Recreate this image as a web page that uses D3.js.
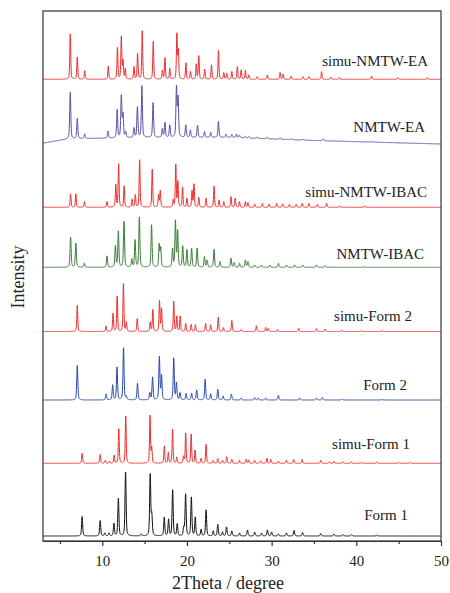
<!DOCTYPE html>
<html><head><meta charset="utf-8">
<script src="https://cdn.jsdelivr.net/npm/d3@7"></script>
<style>html,body{margin:0;padding:0;background:#fff;}svg{display:block;}</style>
</head><body>
<script>
// ---- data (2θ in degrees, intensities in arbitrary units) ----
const seriesNames = ["simu-NMTW-EA","NMTW-EA","simu-NMTW-IBAC","NMTW-IBAC","simu-Form 2","Form 2","simu-Form 1","Form 1"];
const offsets = [461.7, 0, 333.7, 273.7, 209.5, 141, 77.7, 5];
// background of NMTW-EA (2θ, intensity)
const bgEA = [[3,397.8],[6,402.2],[15,403.5],[25,403.7],[35,400.5],[50,397]];
const xTicks = [10,20,30,40,50];
const xMinorTicks = [5,15,25,35,45];

const peaksSimuEA = [[6.22,45.3],[7.05,22.5],[7.93,8.7],[10.71,13.3],[11.79,32],[12.25,42.7],[12.45,18],[12.72,10],[13.75,12.5],[14.17,26],[14.72,48.3],[16.02,37.7],[17.1,8.7],[17.4,21.3],[17.97,11],[18.81,45.3],[18.98,28],[19.88,16.3],[20.42,7.7],[21.1,15],[21.4,23.3],[22.1,10],[22.9,14.3],[23.72,28.7],[24.35,6.7],[24.7,6],[25.3,7.7],[25.95,12.7],[26.4,9.3],[26.9,8.7],[27.3,4.3],[28.3,2.7],[29.5,4.3],[31.0,6.7],[31.35,5.3],[32.3,3.3],[33.7,2.7],[34.4,2.7],[35.9,7.7],[37.0,2],[38.0,2],[41.8,3.3],[44.9,1.7],[48.4,1.7]];
const peaksEA = [[6.22,46.5],[7.05,20.5],[7.92,4.5],[10.68,7],[11.76,28],[12.25,42],[12.45,23],[12.77,5.7],[13.75,9.5],[14.15,30.7],[14.68,51.5],[16.0,34.7],[17.1,8.5],[17.4,14.7],[17.97,12.3],[18.76,49.5],[18.95,39],[19.86,12.3],[20.4,7.2],[21.25,12],[22.07,5.7],[22.8,5],[23.72,16],[24.6,3],[25.3,3],[25.85,3.5],[26.2,2.5],[26.9,1.5],[27.3,1.5],[28.3,1.5],[29.5,1.5],[31,1.5],[32.3,1],[33.7,1],[36.1,2],[41.8,1]];
const peaksSimuIBAC = [[6.26,13.3],[6.88,13.3],[7.89,5.7],[10.56,5.7],[11.6,22.3],[11.93,44],[12.58,21.3],[13.52,8],[13.9,12.3],[14.41,48.3],[15.9,38],[16.65,12.3],[16.85,16.7],[18.38,7.3],[18.68,42.3],[18.93,25.7],[19.48,20],[20.0,9],[20.6,16.3],[20.83,23.3],[21.4,9.7],[22.26,9],[23.2,21.3],[23.8,7.3],[24.35,5.7],[25.2,10.7],[25.7,9],[26.2,5.7],[26.9,5.7],[27.2,4.7],[28.0,3.3],[28.9,4],[29.7,3.3],[30.6,4],[31.3,3.3],[32.1,3],[32.9,3],[33.6,4],[34.4,4],[35.4,3],[36.5,4],[38.0,1.3],[41,1.3]];
const peaksIBAC = [[6.26,30],[6.88,24],[7.89,4],[10.56,11.3],[11.55,21.3],[11.9,35.7],[12.57,46.3],[13.49,8],[13.87,27.3],[14.38,50],[15.82,42.3],[16.72,22.3],[16.9,19],[18.3,18],[18.64,45.7],[18.9,35.7],[19.5,21],[20.0,17.3],[20.55,19],[21.2,19],[22.07,10.7],[22.38,7],[23.2,18],[23.9,5.7],[25.2,9],[25.57,4.7],[26.2,4],[26.9,7.3],[27.2,5.7],[28.0,2.3],[28.8,2.3],[29.8,2.3],[30.8,4],[31.75,2.3],[32.7,2.3],[33.7,2.3],[35.3,2.3],[36.3,1.7],[41,0.7]];
const peaksSimuF2 = [[7.05,26.5],[10.45,5.5],[11.27,18.3],[11.76,35],[12.5,47.7],[12.84,9],[14.13,13],[15.67,9.5],[15.97,22],[16.76,30.3],[17.0,22.7],[18.44,30],[18.8,15],[19.2,15.3],[19.85,8],[20.5,7],[21.0,6.7],[22.2,8],[22.8,6.7],[23.7,14.3],[24.3,4],[25.3,11],[26.4,2],[28.2,5.7],[29.3,4],[29.6,3],[30.7,2],[33.2,3.3],[35.3,3],[36.3,2.5],[38.3,1.5],[40.6,1],[43,1]];
const peaksF2 = [[7.05,35],[10.45,6],[11.23,15],[11.74,32.7],[12.51,52.7],[12.84,3],[14.16,16.7],[15.62,7],[15.94,22.7],[16.74,42.7],[17.0,24],[18.44,41.7],[18.76,16.7],[19.18,7],[19.9,6.5],[20.55,6.5],[21.15,10],[22.15,21],[22.8,6],[23.64,10.7],[24.27,4],[25.25,6],[26.4,2],[28.0,2.5],[28.4,2],[29.3,2],[30.8,4.7],[33.3,2],[35.3,2],[36.0,2.5],[38.3,1],[43,0.5]];
const peaksSimuF1 = [[7.62,10],[9.75,9],[10.35,3],[10.85,2],[11.4,8],[11.95,35],[12.77,48],[15.64,47.5],[15.84,15],[17.33,17.5],[17.8,11],[18.3,34],[18.8,6],[19.6,6.5],[19.85,30.5],[20.5,29],[20.96,13],[21.67,5],[22.26,19],[23.1,3],[23.64,5],[24.2,3],[24.7,6.5],[25.3,4],[26.2,3],[27.0,4],[27.3,3.3],[28.0,3],[28.7,2.5],[29.45,5],[29.9,4],[30.8,2],[31.75,3],[32.6,4],[33.6,4],[35.8,3.3],[36.8,1.5],[37.35,2],[38.4,1.5],[39.4,1.5],[40.6,1],[42.4,1.5],[45,1],[46.4,1]];
const peaksF1 = [[7.62,19.5],[9.75,15.5],[10.3,3],[10.8,3],[11.38,12.5],[11.9,37.5],[12.75,64.5],[14.6,2],[15.66,61],[15.85,20],[17.32,18.5],[17.83,16.5],[18.31,46.5],[18.85,12],[19.62,8],[19.84,41.5],[20.52,38.5],[20.98,18.5],[21.67,6.5],[22.26,26],[23.1,5],[23.64,11.5],[24.2,4],[24.67,9],[25.3,5],[26.2,3],[27.15,6],[28.0,4],[28.8,3],[29.5,6],[30.0,4],[30.8,2],[31.75,3],[32.65,5.5],[33.65,3.5],[35.8,2.5],[37.35,2],[38.45,1.5],[39.45,1.5],[42.4,1]];
const peakLists = [peaksSimuEA, peaksEA, peaksSimuIBAC, peaksIBAC, peaksSimuF2, peaksF2, peaksSimuF1, peaksF1];
const colors = ["#ee2c2c","#5a4ea6","#ee2c2c","#3a7d3a","#ee2c2c","#2a49a8","#ee2c2c","#111111"];

// ---- layout ----
const W = 450, H = 593;
const m = {left:43, right:9, top:11, bottom:52};
const svg = d3.select("body").append("svg").attr("width",W).attr("height",H);
const x = d3.scaleLinear().domain([3,50]).range([m.left, W-m.right]);
const y = d3.scaleLinear().domain([0,530]).range([H-m.bottom, m.top]);
const bgScale = d3.scaleLinear().domain(bgEA.map(d=>d[0])).range(bgEA.map(d=>d[1]));

function profile(peaks, fw, base){
  const pts = [];
  const hw = fw/2, ln2 = Math.LN2;
  for (let i=0;i<=2350;i++){
    const t = 3 + i*0.02;
    let v = 0;
    for (const [p,h] of peaks){
      const u = (t-p)/hw, u2 = u*u;
      if (u2 > 4000) continue;
      v += h*(0.45/(1+u2) + 0.55*Math.exp(-ln2*u2));
    }
    pts.push([t, base(t)+v]);
  }
  return pts;
}

const line = d3.line().x(d=>x(d[0])).y(d=>y(d[1]));
const g = svg.append("g");
peakLists.forEach((pk,i)=>{
  const isExp = !seriesNames[i].startsWith("simu");
  const base = i===1 ? (t=>bgScale(t)) : (()=>offsets[i]);
  g.append("path").datum(profile(pk, isExp?0.15:0.13, base))
   .attr("fill","none").attr("stroke",colors[i]).attr("stroke-width",1)
   .attr("stroke-linejoin","round").attr("d",line);
});

// frame
svg.append("rect").attr("x",m.left).attr("y",m.top)
  .attr("width",W-m.right-m.left).attr("height",H-m.bottom-m.top)
  .attr("fill","none").attr("stroke","#333").attr("stroke-width",1.2);

const font = "'Liberation Serif','Times New Roman',serif";
const ax = svg.append("g").attr("transform",`translate(0,${H-m.bottom})`)
  .call(d3.axisBottom(x).tickValues(xTicks).tickSize(5).tickPadding(9).tickSizeOuter(0));
ax.select(".domain").attr("stroke","#333").attr("stroke-width",1.2);
ax.selectAll(".tick line").attr("stroke","#333").attr("stroke-width",1.2);
ax.selectAll("text").attr("font-family",font).attr("font-size",15).attr("fill","#222");
const axm = svg.append("g").attr("transform",`translate(0,${H-m.bottom})`)
  .call(d3.axisBottom(x).tickValues(xMinorTicks).tickSize(3).tickFormat(""));
axm.select(".domain").remove();
axm.selectAll(".tick line").attr("stroke","#333").attr("stroke-width",1.2);

// axis titles
svg.append("text").attr("x",228).attr("y",589).attr("text-anchor","middle")
  .attr("font-family",font).attr("font-size",18).attr("fill","#222").text("2Theta / degree");
svg.append("text").attr("transform","translate(24,277) rotate(-90)").attr("text-anchor","middle")
  .attr("font-family",font).attr("font-size",18).attr("fill","#222").text("Intensity");

// series labels
const labelPos = [[428,66],[425,132],[427,197],[424,259],[412,321],[407,390],[410,449],[408,520]];
seriesNames.forEach((n,i)=>{
  svg.append("text").attr("x",labelPos[i][0]).attr("y",labelPos[i][1]).attr("text-anchor","end")
    .attr("font-family",font).attr("font-size",15).attr("fill","#222").text(n);
});
</script>
</body></html>
